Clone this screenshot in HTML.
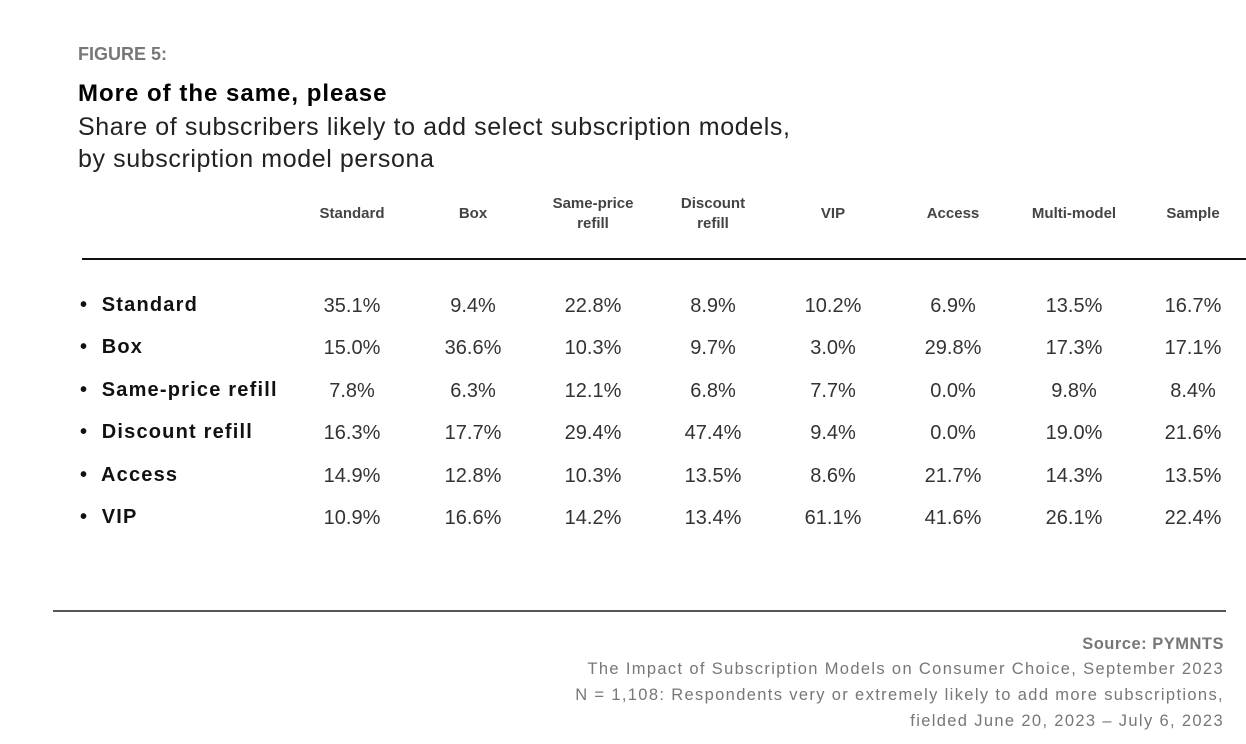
<!DOCTYPE html>
<html><head><meta charset="utf-8"><style>
body{margin:0;width:1246px;height:744px;background:#fff;position:relative;overflow:hidden;font-family:"Liberation Sans",sans-serif}
.a{position:absolute;white-space:nowrap}
.h{position:absolute;width:140px;margin-left:-70px;text-align:center;font-weight:bold;font-size:15px;color:#444;line-height:20px}
.v{position:absolute;width:120px;margin-left:-60px;text-align:center;font-size:20px;color:#333;line-height:24px}
.r{position:absolute;left:80px;font-size:20px;font-weight:bold;color:#111;line-height:24px;letter-spacing:1.2px}
.f{position:absolute;right:22px;font-size:16.5px;color:#777;text-align:right;letter-spacing:1.35px;white-space:nowrap}
</style></head><body>
<div class="a" style="left:78px;top:44px;font-size:18px;font-weight:bold;color:#777">FIGURE 5:</div>
<div class="a" style="left:78px;top:80px;font-size:24px;font-weight:bold;color:#000;letter-spacing:1px">More of the same, please</div>
<div class="a" style="left:78px;top:111px;font-size:25px;color:#222;line-height:32px;letter-spacing:0.6px">Share of subscribers likely to add select subscription models,<br>by subscription model persona</div>

<div class="h" style="left:352px;top:204px">Standard</div>
<div class="h" style="left:473px;top:204px">Box</div>
<div class="h" style="left:593px;top:194px">Same-price<br>refill</div>
<div class="h" style="left:713px;top:194px">Discount<br>refill</div>
<div class="h" style="left:833px;top:204px">VIP</div>
<div class="h" style="left:953px;top:204px">Access</div>
<div class="h" style="left:1074px;top:204px">Multi-model</div>
<div class="h" style="left:1193px;top:204px">Sample</div>

<div class="a" style="left:82px;top:258px;width:1164px;height:2px;background:#111"></div>

<div id="rows"></div>
<script>
var rows=[["Standard","35.1%","9.4%","22.8%","8.9%","10.2%","6.9%","13.5%","16.7%"],
["Box","15.0%","36.6%","10.3%","9.7%","3.0%","29.8%","17.3%","17.1%"],
["Same-price refill","7.8%","6.3%","12.1%","6.8%","7.7%","0.0%","9.8%","8.4%"],
["Discount refill","16.3%","17.7%","29.4%","47.4%","9.4%","0.0%","19.0%","21.6%"],
["Access","14.9%","12.8%","10.3%","13.5%","8.6%","21.7%","14.3%","13.5%"],
["VIP","10.9%","16.6%","14.2%","13.4%","61.1%","41.6%","26.1%","22.4%"]];
var xs=[352,473,593,713,833,953,1074,1193],h="";
rows.forEach(function(r,i){var y=293+i*42.4;
h+='<div class="r" style="top:'+y+'px">•&nbsp; '+r[0]+'</div>';
for(var j=0;j<8;j++)h+='<div class="v" style="left:'+xs[j]+'px;top:'+(y+1)+'px">'+r[j+1]+'</div>';});
document.getElementById("rows").innerHTML=h;
</script>

<div class="a" style="left:53px;top:610px;width:1173px;height:2px;background:#555"></div>
<div class="f" style="top:635px;font-weight:bold;letter-spacing:0.5px">Source: PYMNTS</div>
<div class="f" style="top:660px">The Impact of Subscription Models on Consumer Choice, September 2023</div>
<div class="f" style="top:686px">N = 1,108: Respondents very or extremely likely to add more subscriptions,</div>
<div class="f" style="top:712px">fielded June 20, 2023 – July 6, 2023</div>
</body></html>
